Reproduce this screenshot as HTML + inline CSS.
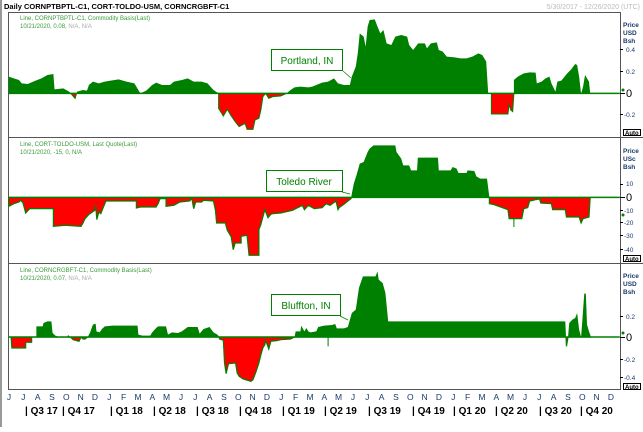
<!DOCTYPE html>
<html><head><meta charset="utf-8"><style>
body{margin:0;background:#fff;width:643px;height:427px;overflow:hidden;font-family:"Liberation Sans",sans-serif}
</style></head><body>
<svg width="643" height="427" viewBox="0 0 643 427" xmlns="http://www.w3.org/2000/svg" font-family="Liberation Sans, sans-serif">
<defs>
<clipPath id="a1"><rect x="0" y="0" width="2000" height="250"/></clipPath>
<clipPath id="b1"><rect x="0" y="250" width="2000" height="400"/></clipPath>
<clipPath id="a2"><rect x="0" y="0" width="2000" height="181"/></clipPath>
<clipPath id="b2"><rect x="0" y="181" width="2000" height="400"/></clipPath>
<clipPath id="a3"><rect x="0" y="0" width="2000" height="222"/></clipPath>
<clipPath id="b3"><rect x="0" y="222" width="2000" height="400"/></clipPath>
</defs>
<rect x="0" y="0" width="643" height="427" fill="#fff"/>
<line x1="1" y1="0" x2="1" y2="427" stroke="#999" stroke-width="2"/>
<text x="4" y="9" font-size="7.5" font-weight="bold" fill="#000">Daily CORNPTBPTL-C1, CORT-TOLDO-USM, CORNCRGBFT-C1</text>
<text x="640" y="9" font-size="7" fill="#bbb" text-anchor="end">5/30/2017 - 12/26/2020 (UTC)</text>
<rect x="8.5" y="12.5" width="612" height="377" fill="none" stroke="#555"/>
<line x1="8" y1="137.5" x2="643" y2="137.5" stroke="#555"/>
<line x1="8" y1="263.5" x2="643" y2="263.5" stroke="#555"/>

<g transform="translate(0,10) scale(0.3953,0.3333)">
<polygon fill="#008000" clip-path="url(#a1)" points="22,250 22,200 35,205 48,210 55,220 70,222 90,212 105,205 120,195 135,192 138,238 160,235 175,245 190,265 195,245 210,240 220,242 225,225 235,215 250,220 265,215 280,212 300,208 320,215 340,220 355,250 370,242 385,225 395,218 410,225 430,225 440,215 460,210 475,205 490,215 510,215 525,220 540,240 553,250 553,295 565,318 575,298 585,318 595,335 605,350 620,340 625,358 640,358 645,330 655,325 660,300 665,260 672,250 680,265 690,260 710,258 725,250 735,240 745,232 760,230 780,232 790,230 800,225 815,218 830,215 845,205 855,220 870,225 885,225 890,200 900,170 905,130 910,70 920,80 925,110 930,50 935,30 948,28 955,50 962,70 970,60 978,100 990,105 1000,80 1015,75 1030,80 1035,105 1045,120 1058,100 1075,100 1080,115 1090,100 1105,97 1110,120 1120,125 1130,140 1150,142 1165,145 1180,145 1195,140 1210,130 1220,135 1230,155 1235,250 1243,250 1243,312 1285,312 1288,282 1292,300 1297,305 1300,250 1300,210 1310,200 1325,190 1340,187 1355,188 1358,220 1370,215 1380,205 1390,200 1395,220 1405,245 1410,215 1420,212 1435,190 1445,178 1455,162 1460,165 1465,200 1470,252 1475,230 1480,195 1490,215 1493,250"/>
<polygon fill="#ff0000" stroke="#008000" stroke-width="1" vector-effect="non-scaling-stroke" clip-path="url(#b1)" points="22,250 22,200 35,205 48,210 55,220 70,222 90,212 105,205 120,195 135,192 138,238 160,235 175,245 190,265 195,245 210,240 220,242 225,225 235,215 250,220 265,215 280,212 300,208 320,215 340,220 355,250 370,242 385,225 395,218 410,225 430,225 440,215 460,210 475,205 490,215 510,215 525,220 540,240 553,250 553,295 565,318 575,298 585,318 595,335 605,350 620,340 625,358 640,358 645,330 655,325 660,300 665,260 672,250 680,265 690,260 710,258 725,250 735,240 745,232 760,230 780,232 790,230 800,225 815,218 830,215 845,205 855,220 870,225 885,225 890,200 900,170 905,130 910,70 920,80 925,110 930,50 935,30 948,28 955,50 962,70 970,60 978,100 990,105 1000,80 1015,75 1030,80 1035,105 1045,120 1058,100 1075,100 1080,115 1090,100 1105,97 1110,120 1120,125 1130,140 1150,142 1165,145 1180,145 1195,140 1210,130 1220,135 1230,155 1235,250 1243,250 1243,312 1285,312 1288,282 1292,300 1297,305 1300,250 1300,210 1310,200 1325,190 1340,187 1355,188 1358,220 1370,215 1380,205 1390,200 1395,220 1405,245 1410,215 1420,212 1435,190 1445,178 1455,162 1460,165 1465,200 1470,252 1475,230 1480,195 1490,215 1493,250"/>
<line x1="22" y1="250" x2="1568" y2="250" stroke="#008000" stroke-width="1.5" vector-effect="non-scaling-stroke"/>
</g>
<line x1="620" y1="93.5" x2="625" y2="93.5" stroke="#000"/>
<circle cx="623" cy="90" r="1.5" fill="#008000"/>

<g transform="translate(0,137) scale(0.3953,0.3333)">
<polygon fill="#008000" clip-path="url(#a2)" points="22,181 22,208 35,200 48,195 52,190 58,197 65,228 75,215 90,215 135,215 135,268 165,265 205,268 210,258 215,245 225,232 240,220 242,205 245,248 250,225 255,230 260,215 268,192 300,192 345,192 345,213 355,210 395,210 400,200 405,185 420,185 420,208 440,205 455,195 480,192 485,183 490,215 495,195 510,195 515,190 540,192 545,220 548,258 570,258 575,280 585,300 590,338 595,318 610,318 610,298 625,295 630,355 655,355 655,278 660,262 665,240 670,218 678,242 685,232 690,230 710,228 740,220 765,205 770,218 780,205 795,215 815,212 825,200 835,205 850,192 855,218 858,212 870,202 880,192 888,185 890,170 895,140 903,110 910,80 920,75 930,45 935,35 945,25 1000,25 1003,45 1015,65 1020,85 1035,85 1040,100 1055,100 1057,62 1108,62 1110,100 1140,100 1145,90 1155,95 1160,108 1180,108 1183,100 1200,102 1205,118 1215,125 1232,125 1238,181 1238,200 1250,203 1285,218 1288,245 1320,245 1325,215 1335,212 1340,192 1355,188 1365,186 1368,198 1395,200 1398,218 1430,218 1433,240 1465,240 1470,258 1475,245 1490,240 1493,181"/>
<polygon fill="#ff0000" stroke="#008000" stroke-width="1.2" vector-effect="non-scaling-stroke" clip-path="url(#b2)" points="22,181 22,208 35,200 48,195 52,190 58,197 65,228 75,215 90,215 135,215 135,268 165,265 205,268 210,258 215,245 225,232 240,220 242,205 245,248 250,225 255,230 260,215 268,192 300,192 345,192 345,213 355,210 395,210 400,200 405,185 420,185 420,208 440,205 455,195 480,192 485,183 490,215 495,195 510,195 515,190 540,192 545,220 548,258 570,258 575,280 585,300 590,338 595,318 610,318 610,298 625,295 630,355 655,355 655,278 660,262 665,240 670,218 678,242 685,232 690,230 710,228 740,220 765,205 770,218 780,205 795,215 815,212 825,200 835,205 850,192 855,218 858,212 870,202 880,192 888,185 890,170 895,140 903,110 910,80 920,75 930,45 935,35 945,25 1000,25 1003,45 1015,65 1020,85 1035,85 1040,100 1055,100 1057,62 1108,62 1110,100 1140,100 1145,90 1155,95 1160,108 1180,108 1183,100 1200,102 1205,118 1215,125 1232,125 1238,181 1238,200 1250,203 1285,218 1288,245 1320,245 1325,215 1335,212 1340,192 1355,188 1365,186 1368,198 1395,200 1398,218 1430,218 1433,240 1465,240 1470,258 1475,245 1490,240 1493,181"/>
<line x1="1300" y1="245" x2="1300" y2="270" stroke="#008000" vector-effect="non-scaling-stroke"/>
<line x1="22" y1="181" x2="1568" y2="181" stroke="#008000" stroke-width="1.5" vector-effect="non-scaling-stroke"/>
</g>
<line x1="620" y1="197.5" x2="625" y2="197.5" stroke="#000"/>
<circle cx="623" cy="215" r="1.5" fill="#008000"/>

<g transform="translate(0,263) scale(0.3953,0.3333)">
<polygon fill="#008000" clip-path="url(#a3)" points="22,222 28,222 30,255 65,255 65,238 80,238 80,222 92,222 92,190 108,190 110,180 120,175 130,175 133,210 140,218 150,222 170,222 172,216 178,222 185,230 200,235 205,222 210,228 215,228 222,222 228,208 235,185 242,182 244,205 252,208 258,198 265,190 285,188 348,188 350,215 360,218 380,218 385,208 395,195 400,190 420,190 425,215 435,208 450,210 460,205 475,192 500,192 505,212 515,198 530,192 540,208 550,215 555,222 555,228 565,232 568,300 572,332 578,302 596,300 600,330 605,340 615,348 635,355 640,350 648,325 655,300 660,275 665,255 670,245 672,232 680,258 685,235 700,233 710,230 735,228 745,222 748,205 760,205 762,188 770,205 775,195 780,205 785,208 800,205 805,192 820,188 840,186 848,183 852,196 870,196 880,192 890,150 900,140 908,75 918,40 950,40 955,25 958,50 968,60 975,90 982,175 1430,175 1433,250 1437,222 1440,180 1448,170 1455,165 1460,150 1465,200 1470,222 1473,175 1478,92 1482,92 1485,185 1490,205 1495,222"/>
<polygon fill="#ff0000" stroke="#008000" stroke-width="1.2" vector-effect="non-scaling-stroke" clip-path="url(#b3)" points="22,222 28,222 30,255 65,255 65,238 80,238 80,222 92,222 92,190 108,190 110,180 120,175 130,175 133,210 140,218 150,222 170,222 172,216 178,222 185,230 200,235 205,222 210,228 215,228 222,222 228,208 235,185 242,182 244,205 252,208 258,198 265,190 285,188 348,188 350,215 360,218 380,218 385,208 395,195 400,190 420,190 425,215 435,208 450,210 460,205 475,192 500,192 505,212 515,198 530,192 540,208 550,215 555,222 555,228 565,232 568,300 572,332 578,302 596,300 600,330 605,340 615,348 635,355 640,350 648,325 655,300 660,275 665,255 670,245 672,232 680,258 685,235 700,233 710,230 735,228 745,222 748,205 760,205 762,188 770,205 775,195 780,205 785,208 800,205 805,192 820,188 840,186 848,183 852,196 870,196 880,192 890,150 900,140 908,75 918,40 950,40 955,25 958,50 968,60 975,90 982,175 1430,175 1433,250 1437,222 1440,180 1448,170 1455,165 1460,150 1465,200 1470,222 1473,175 1478,92 1482,92 1485,185 1490,205 1495,222"/>
<line x1="830" y1="222" x2="830" y2="250" stroke="#008000" vector-effect="non-scaling-stroke"/>
<line x1="22" y1="222" x2="1568" y2="222" stroke="#008000" stroke-width="1.5" vector-effect="non-scaling-stroke"/>
</g>
<line x1="620" y1="337.5" x2="625" y2="337.5" stroke="#000"/>
<circle cx="623" cy="333" r="1.5" fill="#008000"/>

<g font-size="6" fill="#3a9a3a">
<text x="20" y="20">Line, CORNPTBPTL-C1, Commodity Basis(Last)</text>
<text x="20" y="28">10/21/2020, 0.08, <tspan fill="#aaa">N/A, N/A</tspan></text>
<text x="20" y="146">Line, CORT-TOLDO-USM, Last Quote(Last)</text>
<text x="20" y="154">10/21/2020, -15, 0, N/A</text>
<text x="20" y="272">Line, CORNCRGBFT-C1, Commodity Basis(Last)</text>
<text x="20" y="280">10/21/2020, 0.07, <tspan fill="#aaa">N/A, N/A</tspan></text>
</g>

<g font-size="10" fill="#008000">
<rect x="271.5" y="49.5" width="71" height="21" fill="#fff" stroke="#008000"/>
<text x="307" y="64" text-anchor="middle">Portland, IN</text>
<line x1="343" y1="71" x2="351" y2="78" stroke="#008000" stroke-width="0.7"/>
<rect x="266.5" y="170.5" width="76" height="21" fill="#fff" stroke="#008000"/>
<text x="304" y="185" text-anchor="middle">Toledo River</text>
<line x1="342" y1="192" x2="350" y2="194" stroke="#008000" stroke-width="0.7"/>
<rect x="271.5" y="294.5" width="69" height="21" fill="#fff" stroke="#008000"/>
<text x="306" y="309" text-anchor="middle">Bluffton, IN</text>
<line x1="340" y1="316" x2="348" y2="320" stroke="#008000" stroke-width="0.7"/>
</g>

<g font-size="6.5" fill="#1a3a6a" font-weight="bold">
<text x="623" y="27">Price</text><text x="623" y="35">USD</text><text x="623" y="43">Bsh</text>
<text x="623" y="153">Price</text><text x="623" y="161">USc</text><text x="623" y="169">Bsh</text>
<text x="623" y="278">Price</text><text x="623" y="286">USD</text><text x="623" y="294">Bsh</text>
</g>
<g font-size="6.5" fill="#1a3a6a">
<text x="626" y="52">0.4</text><text x="626" y="74">0.2</text><text x="624" y="117">-0.2</text>
<text x="626" y="186">10</text><text x="624" y="213">-10</text><text x="624" y="225">-20</text><text x="624" y="238">-30</text><text x="624" y="252">-40</text>
<text x="626" y="319">0.2</text><text x="624" y="362">-0.2</text><text x="624" y="380">-0.4</text>
</g>
<g stroke="#000">
<line x1="620" y1="49.5" x2="623" y2="49.5"/><line x1="620" y1="71.5" x2="623" y2="71.5"/><line x1="620" y1="114.5" x2="623" y2="114.5"/>
<line x1="620" y1="184.5" x2="623" y2="184.5"/><line x1="620" y1="210.5" x2="623" y2="210.5"/><line x1="620" y1="222.5" x2="623" y2="222.5"/><line x1="620" y1="235.5" x2="623" y2="235.5"/><line x1="620" y1="249.5" x2="623" y2="249.5"/>
<line x1="620" y1="316.5" x2="623" y2="316.5"/><line x1="620" y1="359.5" x2="623" y2="359.5"/><line x1="620" y1="377.5" x2="623" y2="377.5"/>
</g>
<g font-size="11" fill="#000">
<text x="626" y="97">0</text><text x="626" y="201">0</text><text x="626" y="341">0</text>
</g>
<g font-size="6" font-weight="bold" fill="#000">
<rect x="623.5" y="129.5" width="17" height="6" fill="#fff" stroke="#000"/><text x="625" y="135">Auto</text>
<rect x="623.5" y="255.5" width="17" height="6" fill="#fff" stroke="#000"/><text x="625" y="261">Auto</text>
<rect x="623.5" y="383.5" width="17" height="6" fill="#fff" stroke="#000"/><text x="625" y="389">Auto</text>
</g>

<g font-size="8.5" fill="#1a3a6a" text-anchor="middle">
<text x="9" y="400">J</text><text x="23.3" y="400">J</text><text x="37.7" y="400">A</text><text x="52" y="400">S</text><text x="66.3" y="400">O</text><text x="80.7" y="400">N</text><text x="95" y="400">D</text><text x="109.3" y="400">J</text><text x="123.6" y="400">F</text><text x="138" y="400">M</text><text x="152.3" y="400">A</text><text x="166.6" y="400">M</text><text x="181" y="400">J</text><text x="195.3" y="400">J</text><text x="209.6" y="400">A</text><text x="224" y="400">S</text><text x="238.3" y="400">O</text><text x="252.6" y="400">N</text><text x="267" y="400">D</text><text x="281.3" y="400">J</text><text x="295.6" y="400">F</text><text x="310" y="400">M</text><text x="324.3" y="400">A</text><text x="338.6" y="400">M</text><text x="353" y="400">J</text><text x="367.3" y="400">J</text><text x="381.6" y="400">A</text><text x="396" y="400">S</text><text x="410.3" y="400">O</text><text x="424.6" y="400">N</text><text x="439" y="400">D</text><text x="453.3" y="400">J</text><text x="467.6" y="400">F</text><text x="482" y="400">M</text><text x="496.3" y="400">A</text><text x="510.6" y="400">M</text><text x="525" y="400">J</text><text x="539.3" y="400">J</text><text x="553.6" y="400">A</text><text x="568" y="400">S</text><text x="582.3" y="400">O</text><text x="596.6" y="400">N</text><text x="611" y="400">D</text>
</g>
<g font-size="10" font-weight="bold" fill="#000">
<text x="25" y="414">| Q3 17</text><text x="62" y="414">| Q4 17</text><text x="110" y="414">| Q1 18</text><text x="153" y="414">| Q2 18</text><text x="196" y="414">| Q3 18</text><text x="239" y="414">| Q4 18</text><text x="282" y="414">| Q1 19</text><text x="324" y="414">| Q2 19</text><text x="368" y="414">| Q3 19</text><text x="412" y="414">| Q4 19</text><text x="453" y="414">| Q1 20</text><text x="495" y="414">| Q2 20</text><text x="539" y="414">| Q3 20</text><text x="580" y="414">| Q4 20</text>
</g>
</svg>
</body></html>
